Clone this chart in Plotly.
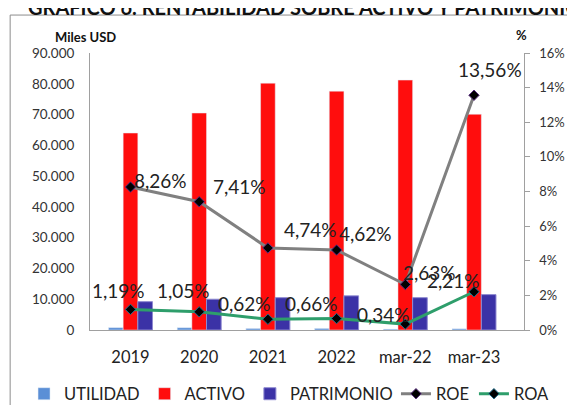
import plotly.graph_objects as go

categories = ["2019", "2020", "2021", "2022", "mar-22", "mar-23"]
utilidad = [760, 740, 500, 510, 280, 390]
activo = [64000, 70500, 80200, 77600, 81200, 70100]
patrimonio = [9200, 10000, 10500, 11100, 10500, 11500]
roe = [0.0826, 0.0741, 0.0474, 0.0462, 0.0263, 0.1356]
roa = [0.0119, 0.0105, 0.0062, 0.0066, 0.0034, 0.0221]
roe_labels = ["8,26%", "7,41%", "4,74%", "4,62%", "2,63%", "13,56%"]
roa_labels = ["1,19%", "1,05%", "0,62%", "0,66%", "0,34%", "2,21%"]
# label offsets in pixels (style, not data)
roe_shift = [(30, 7), (40, 15), (43, 18), (29, 17), (24, 12), (16, 26)]
roa_shift = [(-12, 19), (-16, 21), (-23, 16), (-25, 15), (-22, 10), (-21, 11)]

FONT = "Lato"

fig = go.Figure()
fig.add_trace(go.Bar(x=categories, y=utilidad, name="UTILIDAD", marker_color="#5B8FD6",
                     xaxis="x", yaxis="y", legend="legend"))
fig.add_trace(go.Bar(x=categories, y=activo, name="ACTIVO", marker_color="#FF0D0D",
                     xaxis="x", yaxis="y", legend="legend"))
fig.add_trace(go.Bar(x=categories, y=patrimonio, name="PATRIMONIO", marker_color="#3B32A6",
                     marker_line=dict(color="#8E89D0", width=1), xaxis="x", yaxis="y",
                     legend="legend"))
fig.add_trace(go.Scatter(x=categories, y=roe, name="ROE", xaxis="x", yaxis="y2", mode="lines+markers",
                         line=dict(color="#808080", width=3), legend="legend2",
                         marker=dict(symbol="diamond", size=8, color="#000000",
                                     line=dict(color="#5A2D82", width=1))))
fig.add_trace(go.Scatter(x=categories, y=roa, name="ROA", xaxis="x", yaxis="y2", mode="lines+markers",
                         line=dict(color="#2E9E6B", width=3), legend="legend2",
                         marker=dict(symbol="diamond", size=8, color="#000000",
                                     line=dict(color="#1E6E8E", width=1))))

annotations = []
for i, (v, t, (dx, dy)) in enumerate(zip(roe, roe_labels, roe_shift)):
    annotations.append(dict(x=i, y=v, xref="x", yref="y2", text=t, showarrow=False,
                            xshift=dx, yshift=dy, font=dict(family=FONT, size=19, color="#222")))
for i, (v, t, (dx, dy)) in enumerate(zip(roa, roa_labels, roa_shift)):
    annotations.append(dict(x=i, y=v, xref="x", yref="y2", text=t, showarrow=False,
                            xshift=dx, yshift=dy, font=dict(family=FONT, size=19, color="#222")))
annotations.append(dict(x=-0.01, y=1.02, xref="paper", yref="paper", xanchor="center", yanchor="bottom",
                        text="<b>Miles USD</b>", showarrow=False,
                        font=dict(family=FONT, size=13, color="#111")))
annotations.append(dict(x=0.995, y=1.03, xref="paper", yref="paper", xanchor="center", yanchor="bottom",
                        text="<b>%</b>", showarrow=False,
                        font=dict(family=FONT, size=13, color="#111")))
annotations.append(dict(x=0.495, y=1.116, xref="paper", yref="paper", xanchor="center", yanchor="bottom",
                        text="<b>GRÁFICO 6. RENTABILIDAD SOBRE ACTIVO Y PATRIMONIO</b>", showarrow=False,
                        font=dict(family=FONT, size=20, color="#111")))

legend_style = dict(orientation="h", yanchor="middle", xanchor="left", y=-0.231,
                    font=dict(family=FONT, size=16.5, color="#222"), itemwidth=30,
                    traceorder="normal", bgcolor="rgba(0,0,0,0)")

# the page body adds an 8px offset; margins compensate so the plot area sits where the reference's does
fig.update_layout(
    width=575, height=405,
    margin=dict(l=82, r=59, t=45, b=83, autoexpand=False),
    paper_bgcolor="white", plot_bgcolor="white",
    separators=",.",
    barmode="group", bargap=0.36, bargroupgap=0,
    font=dict(family=FONT, color="#333"),
    showlegend=True,
    legend=dict(x=-0.152, **legend_style),
    legend2=dict(x=0.705, **legend_style),
    annotations=annotations,
    shapes=[dict(type="rect", xref="paper", yref="paper", x0=-0.184, y0=-0.5, x1=1.5, y1=1.137,
                 line=dict(color="#8C8C8C", width=1), fillcolor="rgba(0,0,0,0)", layer="below")],
)
fig.update_xaxes(type="category", categoryorder="array", categoryarray=categories,
                 showline=True, linecolor="#A0A0A0", linewidth=1, ticks="outside", ticklen=12,
                 tickcolor="rgba(0,0,0,0)", automargin=False,
                 tickfont=dict(family=FONT, size=16.5, color="#222"))
fig.update_layout(
    yaxis=dict(range=[0, 90000], dtick=10000, tickformat=",d", showgrid=False, automargin=False,
               showline=True, linecolor="#A0A0A0", linewidth=1, ticks="outside", ticklen=12,
               tickcolor="rgba(0,0,0,0)", zeroline=False,
               tickfont=dict(family=FONT, size=13.5, color="#333")),
    yaxis2=dict(range=[0, 0.16], dtick=0.02, tickformat=".0%", overlaying="y", side="right",
                showgrid=False, showline=True, linecolor="#A0A0A0", linewidth=1, automargin=False,
                ticks="outside", ticklen=5, tickcolor="#A0A0A0", zeroline=False,
                tickprefix="\u00a0\u00a0",
                tickfont=dict(family=FONT, size=13, color="#333")),
)

fig.write_html("out.html")
